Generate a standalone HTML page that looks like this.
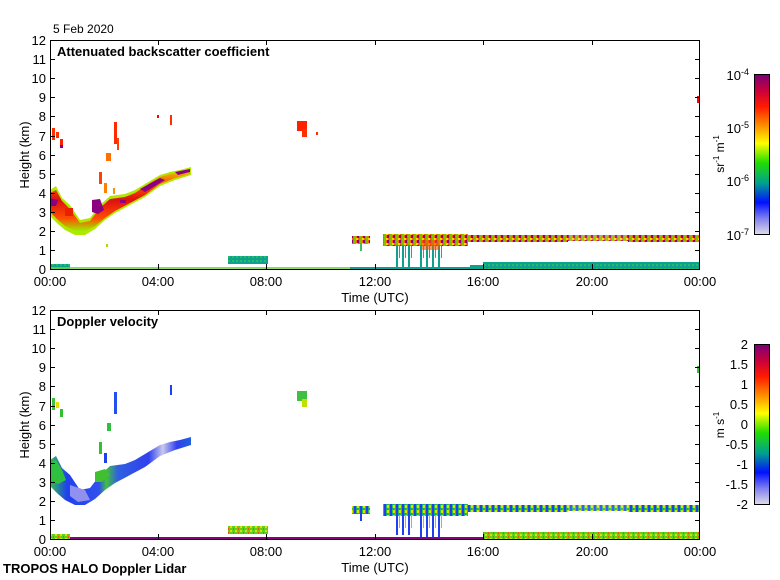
<!DOCTYPE html>
<html><head><meta charset="utf-8"><style>
html,body{margin:0;padding:0;background:#fff;}
svg{display:block;font-family:"Liberation Sans",sans-serif;}
</style></head><body>
<svg width="780" height="580" viewBox="0 0 780 580" xmlns="http://www.w3.org/2000/svg">
<defs>
<linearGradient id="cb1" x1="0" y1="0" x2="0" y2="1">
<stop offset="0" stop-color="#7a0078"/><stop offset="0.1" stop-color="#c8003c"/><stop offset="0.2" stop-color="#ff1a00"/><stop offset="0.33" stop-color="#ff9900"/><stop offset="0.43" stop-color="#ffff00"/><stop offset="0.55" stop-color="#22dd00"/><stop offset="0.68" stop-color="#00a090"/><stop offset="0.8" stop-color="#0010ff"/><stop offset="0.9" stop-color="#8080f0"/><stop offset="1" stop-color="#e0dce8"/>
</linearGradient>
<linearGradient id="band" x1="0" y1="0" x2="0" y2="1">
<stop offset="0" stop-color="#d4e000"/><stop offset="0.2" stop-color="#ff6000"/><stop offset="0.5" stop-color="#dd1010"/><stop offset="0.8" stop-color="#ff5000"/><stop offset="1" stop-color="#99ee00"/>
</linearGradient>
<linearGradient id="band2" x1="0" y1="0" x2="1" y2="0">
<stop offset="0" stop-color="#30c050"/><stop offset="0.12" stop-color="#2040ee"/><stop offset="0.35" stop-color="#3050ee"/><stop offset="0.4" stop-color="#40c040"/><stop offset="0.48" stop-color="#3060e0"/><stop offset="0.7" stop-color="#3040ee"/><stop offset="0.8" stop-color="#c8c8ee"/><stop offset="0.9" stop-color="#3040ee"/><stop offset="1" stop-color="#2060dd"/>
</linearGradient>
<pattern id="lowc" width="6" height="5" patternUnits="userSpaceOnUse"><rect width="6" height="5" fill="#ff6000"/><rect width="2" height="5" fill="#80c000"/><rect x="3" width="2" height="3" fill="#880080"/><rect x="2" y="3" width="2" height="2" fill="#e8e000"/></pattern>
<pattern id="lowv" width="6" height="5" patternUnits="userSpaceOnUse"><rect width="6" height="5" fill="#30c030"/><rect width="2" height="5" fill="#2040ee"/><rect x="3" width="2" height="3" fill="#e0e000"/><rect x="2" y="3" width="2" height="2" fill="#10a0a0"/></pattern>
<pattern id="teal" width="4" height="4" patternUnits="userSpaceOnUse"><rect width="4" height="4" fill="#10a090"/><rect width="2" height="2" fill="#20c060"/></pattern>
<pattern id="grn" width="5" height="4" patternUnits="userSpaceOnUse"><rect width="5" height="4" fill="#60d020"/><rect width="2" height="2" fill="#e0e000"/><rect x="3" y="2" width="1" height="2" fill="#ff5000"/></pattern>
<pattern id="streakT" width="6" height="30" patternUnits="userSpaceOnUse"><rect width="2" height="30" fill="#10a090"/><rect x="3" width="1" height="18" fill="#20b070"/></pattern>
<pattern id="streakB" width="6" height="30" patternUnits="userSpaceOnUse"><rect width="2" height="30" fill="#2040ee"/><rect x="3" width="1" height="18" fill="#a0a0ee"/></pattern>
</defs>

<!-- ========== TOP PANEL ========== -->
<text x="53" y="33" font-size="12">5 Feb 2020</text>
<g>
<polygon fill="#b0e800" points="50,190 56,186 62,198 70,205 80,220 90,218 100,205 110,196 125,194 135,190 150,181 160,175 170,172 180,170 191,167 191,175 175,180 160,186 145,197 130,205 115,213 105,220 95,229 85,235 75,235 65,230 58,224 52,218 50,216"/>
<polygon fill="url(#band)" points="50,193 56,190 62,201 70,209 80,223 90,221 100,208 110,199 125,197 135,193 150,183 160,177 170,174 180,172 190,169 190,174 175,178 160,184 145,195 130,203 115,211 105,218 95,226 85,231 75,231 65,226 58,220 52,214 50,212"/>
<polygon fill="#8b0080" points="92,200 100,199 104,210 98,214 92,212"/>
<polygon fill="#8b0080" points="50,198 58,200 56,206 50,206"/>
<polygon fill="#8b0080" points="140,189 160,178 165,180 145,192"/>
<polygon fill="#8b0080" points="175,172 190,169 190,172 178,175"/>
<rect x="120" y="200" width="6" height="3" fill="#8b0080"/>
<rect x="65" y="208" width="8" height="8" fill="#e82000"/>
<rect x="99" y="172" width="3" height="12" fill="#ff4000"/>
<rect x="104" y="183" width="3" height="10" fill="#ff8000"/>
<rect x="113" y="188" width="2" height="6" fill="#ff9000"/>
<rect x="52" y="128" width="3" height="12" fill="#ff3000"/>
<rect x="56" y="132" width="3" height="6" fill="#ff3000"/>
<rect x="60" y="139" width="3" height="8" fill="#ff2000"/>
<rect x="60" y="145" width="3" height="3" fill="#8b0080"/>
<rect x="114" y="122" width="3" height="22" fill="#ff2a00"/>
<rect x="117" y="138" width="2" height="12" fill="#ff4000"/>
<rect x="106" y="153" width="5" height="8" fill="#ff7000"/>
<rect x="157" y="115" width="2" height="3" fill="#ff0000"/>
<rect x="170" y="115" width="2" height="10" fill="#ff3000"/>
<rect x="297" y="121" width="10" height="10" fill="#ff2000"/>
<rect x="302" y="129" width="5" height="8" fill="#ff3000"/>
<rect x="316" y="132" width="2" height="3" fill="#ff3000"/>
<rect x="697" y="96" width="3" height="7" fill="#ff0000"/>
<rect x="106" y="244" width="2" height="3" fill="#c0d000"/>
<!-- low cloud band -->
<rect x="352" y="236" width="18" height="8" fill="url(#lowc)"/>
<rect x="360" y="243" width="2" height="8" fill="#40c060"/>
<rect x="383" y="234" width="85" height="12" fill="url(#lowc)"/>
<rect x="394" y="245" width="18" height="24" fill="url(#streakT)"/>
<rect x="419" y="245" width="24" height="24" fill="url(#streakT)"/>
<rect x="421" y="240" width="18" height="10" fill="#ff5000" opacity="0.6"/>
<rect x="468" y="235" width="100" height="7" fill="url(#lowc)"/>
<rect x="568" y="235" width="60" height="6" fill="url(#lowc)" opacity="0.85"/>
<rect x="628" y="235" width="72" height="7" fill="url(#lowc)"/>
<rect x="483" y="262" width="217" height="7" fill="url(#teal)"/>
<rect x="470" y="265" width="13" height="4" fill="#10a090"/>
<rect x="228" y="256" width="40" height="8" fill="url(#teal)"/>
<rect x="50" y="264" width="20" height="5" fill="url(#teal)"/>
<rect x="50" y="267" width="300" height="2" fill="#70d040" opacity="0.8"/>
<rect x="350" y="267" width="133" height="2" fill="#10a090"/>
</g>
<g stroke="#000" stroke-width="1" fill="none">
<rect x="50.5" y="40.5" width="649" height="229"/>
</g>
<g stroke="#000" stroke-width="1">
<path d="M50,269.5h5M50,250.5h5M50,231.5h5M50,212.5h5M50,193.5h5M50,174.5h5M50,155.5h5M50,136.5h5M50,116.5h5M50,97.5h5M50,78.5h5M50,59.5h5M50,40.5h5"/>
<path d="M700,250.5h-5M700,231.5h-5M700,212.5h-5M700,193.5h-5M700,174.5h-5M700,155.5h-5M700,136.5h-5M700,116.5h-5M700,97.5h-5M700,78.5h-5M700,59.5h-5"/>
<path d="M158.5,269v-5M266.5,269v-5M375.5,269v-5M483.5,269v-5M592.5,269v-5M158.5,40v5M266.5,40v5M375.5,40v5M483.5,40v5M592.5,40v5"/>
</g>
<g font-size="13" text-anchor="end">
<text x="46" y="274">0</text><text x="46" y="255">1</text><text x="46" y="236">2</text><text x="46" y="217">3</text><text x="46" y="198">4</text><text x="46" y="179">5</text><text x="46" y="160">6</text><text x="46" y="141">7</text><text x="46" y="121">8</text><text x="46" y="102">9</text><text x="46" y="83">10</text><text x="46" y="64">11</text><text x="46" y="45">12</text>
</g>
<g font-size="13" text-anchor="middle">
<text x="50" y="286">00:00</text><text x="158" y="286">04:00</text><text x="266" y="286">08:00</text><text x="375" y="286">12:00</text><text x="483" y="286">16:00</text><text x="592" y="286">20:00</text><text x="700" y="286">00:00</text>
<text x="375" y="302">Time (UTC)</text>
</g>
<text x="57" y="56" font-size="13" font-weight="bold">Attenuated backscatter coefficient</text>
<text transform="translate(29,155) rotate(-90)" font-size="13" text-anchor="middle">Height (km)</text>
<rect x="754.5" y="74.5" width="15" height="160" fill="url(#cb1)" stroke="#000"/>
<g font-size="13" text-anchor="end">
<text x="749" y="80">10<tspan dy="-5" font-size="9">-4</tspan></text>
<text x="749" y="133">10<tspan dy="-5" font-size="9">-5</tspan></text>
<text x="749" y="186">10<tspan dy="-5" font-size="9">-6</tspan></text>
<text x="749" y="240">10<tspan dy="-5" font-size="9">-7</tspan></text>
</g>
<text transform="translate(724,154) rotate(-90)" font-size="12" text-anchor="middle">sr<tspan dy="-5" font-size="8">-1</tspan><tspan dy="5"> m</tspan><tspan dy="-5" font-size="8">-1</tspan></text>

<!-- ========== BOTTOM PANEL ========== -->
<g transform="translate(0,270)">
<polygon fill="url(#band2)" points="50,190 56,186 62,198 70,205 80,220 90,218 100,205 110,196 125,194 135,190 150,181 160,175 170,172 180,170 191,167 191,175 175,180 160,186 145,197 130,205 115,213 105,220 95,229 85,235 75,235 65,230 58,224 52,218 50,216"/>
<polygon fill="#30c040" points="50,193 56,190 62,200 66,210 58,214 50,210"/>
<polygon fill="#40c030" points="95,202 105,199 110,205 102,212 95,212"/>
<polygon fill="#9090ee" points="70,215 85,220 90,230 78,232 70,226"/>
<rect x="99" y="172" width="3" height="12" fill="#30c030"/>
<rect x="104" y="183" width="3" height="10" fill="#2040ee"/>
<rect x="52" y="128" width="3" height="12" fill="#40c040"/>
<rect x="56" y="132" width="3" height="6" fill="#e0e000"/>
<rect x="60" y="139" width="3" height="8" fill="#30c030"/>
<rect x="114" y="122" width="3" height="22" fill="#2050ee"/>
<rect x="107" y="153" width="4" height="8" fill="#30c040"/>
<rect x="170" y="115" width="2" height="10" fill="#2040ee"/>
<rect x="297" y="121" width="10" height="10" fill="#40c040"/>
<rect x="302" y="129" width="5" height="8" fill="#c0e000"/>
<rect x="697" y="96" width="3" height="7" fill="#30c030"/>
<rect x="352" y="236" width="18" height="8" fill="url(#lowv)"/>
<rect x="360" y="243" width="2" height="8" fill="#2040ee"/>
<rect x="383" y="234" width="85" height="12" fill="url(#lowv)"/>
<rect x="394" y="245" width="18" height="20" fill="url(#streakB)"/>
<rect x="419" y="245" width="24" height="22" fill="url(#streakB)"/>
<rect x="468" y="235" width="100" height="7" fill="url(#lowv)"/>
<rect x="568" y="235" width="60" height="6" fill="url(#lowv)" opacity="0.85"/>
<rect x="628" y="235" width="72" height="7" fill="url(#lowv)"/>
<rect x="483" y="262" width="217" height="7" fill="url(#grn)"/>
<rect x="228" y="256" width="40" height="8" fill="url(#grn)"/>
<rect x="50" y="264" width="20" height="5" fill="url(#grn)"/>
<rect x="70" y="267" width="413" height="2" fill="#8b0080"/>
</g>
<g stroke="#000" stroke-width="1" fill="none">
<rect x="50.5" y="310.5" width="649" height="229"/>
</g>
<g stroke="#000" stroke-width="1">
<path d="M50,520.5h5M50,501.5h5M50,482.5h5M50,463.5h5M50,444.5h5M50,425.5h5M50,406.5h5M50,386.5h5M50,367.5h5M50,348.5h5M50,329.5h5"/>
<path d="M700,520.5h-5M700,501.5h-5M700,482.5h-5M700,463.5h-5M700,444.5h-5M700,425.5h-5M700,406.5h-5M700,386.5h-5M700,367.5h-5M700,348.5h-5M700,329.5h-5"/>
<path d="M158.5,539v-5M266.5,539v-5M375.5,539v-5M483.5,539v-5M592.5,539v-5M158.5,310v5M266.5,310v5M375.5,310v5M483.5,310v5M592.5,310v5"/>
</g>
<g font-size="13" text-anchor="end">
<text x="46" y="544">0</text><text x="46" y="525">1</text><text x="46" y="506">2</text><text x="46" y="487">3</text><text x="46" y="468">4</text><text x="46" y="449">5</text><text x="46" y="430">6</text><text x="46" y="411">7</text><text x="46" y="391">8</text><text x="46" y="372">9</text><text x="46" y="353">10</text><text x="46" y="334">11</text><text x="46" y="315">12</text>
</g>
<g font-size="13" text-anchor="middle">
<text x="50" y="556">00:00</text><text x="158" y="556">04:00</text><text x="266" y="556">08:00</text><text x="375" y="556">12:00</text><text x="483" y="556">16:00</text><text x="592" y="556">20:00</text><text x="700" y="556">00:00</text>
<text x="375" y="572">Time (UTC)</text>
</g>
<text x="57" y="326" font-size="13" font-weight="bold">Doppler velocity</text>
<text transform="translate(29,425) rotate(-90)" font-size="13" text-anchor="middle">Height (km)</text>
<text x="3" y="573" font-size="13" font-weight="bold">TROPOS HALO Doppler Lidar</text>
<rect x="754.5" y="344.5" width="15" height="160" fill="url(#cb1)" stroke="#000"/>
<g font-size="13" text-anchor="end">
<text x="748" y="349">2</text><text x="748" y="369">1.5</text><text x="748" y="389">1</text><text x="748" y="409">0.5</text><text x="748" y="429">0</text><text x="748" y="449">-0.5</text><text x="748" y="469">-1</text><text x="748" y="489">-1.5</text><text x="748" y="509">-2</text>
</g>
<text transform="translate(724,425) rotate(-90)" font-size="12" text-anchor="middle">m s<tspan dy="-5" font-size="8">-1</tspan></text>
</svg>
</body></html>
